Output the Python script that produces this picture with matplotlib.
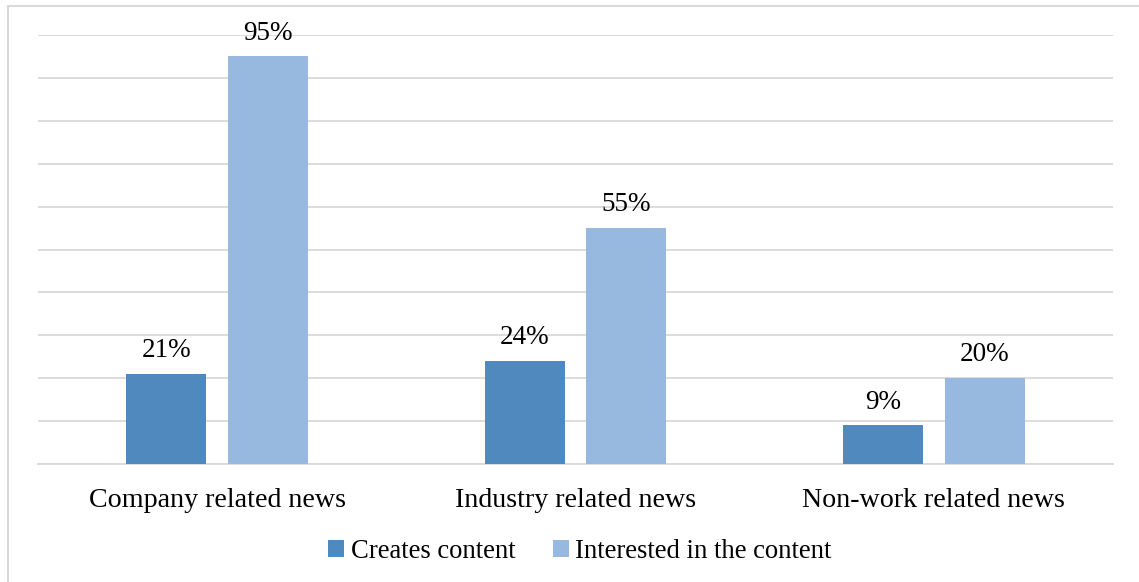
import matplotlib.pyplot as plt
import numpy as np
from matplotlib.patches import Rectangle

plt.rcParams['font.family'] = ['Liberation Serif', 'DejaVu Serif']

categories = ['Company related news', 'Industry related news', 'Non-work related news']
creates = [21, 24, 9]
interested = [95, 55, 20]
series_names = ['Creates content', 'Interested in the content']
colors = ['#4F89BD', '#97B9E0']

fig = plt.figure(figsize=(11.39, 5.82), dpi=100)
# outer chart border (cut off at the right and bottom like the source)
fig.patches.append(Rectangle((8 / 1139, -0.1), 1.2, 1 - 6 / 582 + 0.1,
                             transform=fig.transFigure, fill=False,
                             edgecolor='#D9D9D9', linewidth=1.5))

ax = fig.add_axes([38 / 1139, 1 - 464 / 582, (1113 - 38) / 1139, (464 - 35) / 582])

x = np.arange(len(categories))
w = 0.223
off = 0.142
b1 = ax.bar(x - off, creates, w, color=colors[0], label=series_names[0], zorder=3)
b2 = ax.bar(x + off, interested, w, color=colors[1], label=series_names[1], zorder=3)

for bars, vals in [(b1, creates), (b2, interested)]:
    for rect, v in zip(bars, vals):
        ax.text(rect.get_x() + rect.get_width() / 2, v + 2.5, f'{v}%',
                ha='center', va='bottom', fontsize=19.5, color='#000000')

ax.set_xlim(-0.5, 2.5)
ax.set_ylim(0, 100)
ax.set_yticks(np.arange(0, 101, 10))
ax.yaxis.grid(True, color='#D9D9D9', linewidth=1.3, zorder=0)
ax.set_yticklabels([])
ax.tick_params(axis='y', length=0)
ax.set_xticks(x)
ax.set_xticklabels(categories, fontsize=20.2)
ax.tick_params(axis='x', length=0, pad=17)
for s in ['top', 'right', 'left']:
    ax.spines[s].set_visible(False)
ax.spines['bottom'].set_color('#D9D9D9')
ax.spines['bottom'].set_linewidth(1.3)

fig.legend(loc='center', bbox_to_anchor=(580 / 1139, 1 - 551 / 582), ncol=2,
           frameon=False, fontsize=19.2, handlelength=0.6, handleheight=0.6,
           handletextpad=0.25, columnspacing=1.4)

fig.savefig('out.png', dpi=100)
